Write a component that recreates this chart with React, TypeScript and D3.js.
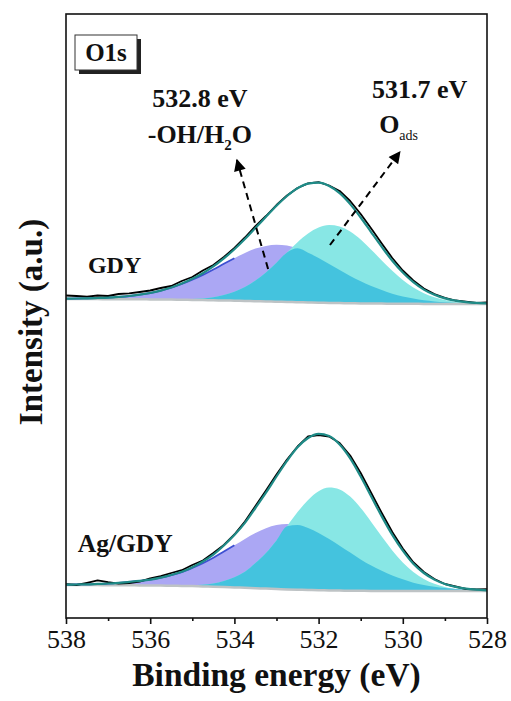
import React, { useRef, useEffect } from 'react';
import * as d3 from 'd3';

// binding energy grid (eV)
const energy = [
  538, 537.75, 537.5, 537.25, 537, 536.75, 536.5, 536.25, 536, 535.75, 535.5,
  535.25, 535, 534.75, 534.5, 534.25, 534, 533.75, 533.5, 533.25, 533,
  532.75, 532.5, 532.25, 532, 531.75, 531.5, 531.25, 531, 530.75, 530.5,
  530.25, 530, 529.75, 529.5, 529.25, 529, 528.75, 528.5, 528.25, 528
];

// GDY (upper spectrum)
const gdyRaw = [
  322.5, 322.0, 321.4, 322.5, 322.0, 324.0, 324.6, 326.0, 327.5, 330.0, 332.0,
  337.0, 341.0, 347.5, 353.0, 361.0, 370.0, 380.5, 391.8, 402.0, 413.0,
  422.5, 430.0, 434.6, 435.8, 432.5, 427.0, 417.0, 404.0, 389.5, 374.5,
  360.0, 347.5, 337.5, 329.5, 324.0, 320.2, 317.5, 316.3, 315.2, 315.6
];
const gdyBg = [
  319.0, 319.0, 318.9, 318.9, 318.8, 318.8, 318.7, 318.7, 318.6, 318.5, 318.4,
  318.3, 318.1, 317.9, 317.7, 317.5, 317.3, 317.0, 316.8, 316.5, 316.3,
  316.0, 315.8, 315.5, 315.3, 315.1, 314.9, 314.7, 314.6, 314.5, 314.4,
  314.3, 314.2, 314.2, 314.1, 314.1, 314.0, 314.0, 314.0, 314.0, 314.0
];
const gdyOH = [
  0.3, 0.5, 0.8, 1.1, 1.6, 2.3, 3.3, 4.6, 6.4, 8.8, 11.9,
  15.7, 20.2, 25.2, 30.8, 36.7, 42.5, 48.0, 52.6, 55.6, 57.0,
  56.4, 53.9, 49.8, 44.8, 39.0, 33.2, 27.4, 22.1, 17.4, 13.5,
  10.0, 7.3, 5.2, 3.6, 2.5, 1.7, 1.1, 0.7, 0.5, 0.3
];
const gdyOads = [
  0, 0, 0, 0, 0, 0, 0, 0, 0, 0.1, 0.2,
  0.4, 0.9, 1.7, 3.1, 5.4, 8.9, 13.9, 20.7, 29.1, 39.0,
  49.6, 60.0, 69.0, 75.2, 77.9, 76.7, 71.8, 63.8, 53.8, 43.2,
  32.9, 23.9, 16.4, 10.7, 6.6, 3.9, 2.2, 1.2, 0.6, 0.3
];

// Ag/GDY (lower spectrum)
const agRaw = [
  33.8, 33.0, 35.2, 37.6, 35.8, 34.4, 35.0, 36.3, 39.6, 41.8, 45.0,
  47.8, 53.0, 57.5, 65.0, 73.0, 83.5, 96.5, 112.0, 127.5, 143.5,
  158.5, 171.5, 181.5, 183.0, 181.5, 175.0, 162.5, 145.0, 125.0, 105.0,
  86.0, 69.5, 55.8, 46.0, 39.0, 34.0, 31.5, 29.0, 28.6, 28.9
];
const agBg = [
  33.0, 33.0, 32.9, 32.9, 32.8, 32.8, 32.7, 32.6, 32.5, 32.4, 32.3,
  32.1, 31.9, 31.6, 31.3, 31.0, 30.6, 30.2, 29.8, 29.4, 29.0,
  28.6, 28.3, 28.0, 27.8, 27.6, 27.4, 27.3, 27.2, 27.1, 27.1,
  27.0, 27.0, 27.0, 27.0, 27.0, 27.0, 27.0, 27.0, 27.0, 27.0
];
const agOH = [
  0.3, 0.5, 0.8, 1.2, 1.7, 2.4, 3.4, 4.5, 5.9, 7.9, 10.5,
  13.7, 18.1, 23.2, 28.9, 35.5, 42.1, 48.9, 55.1, 60.4, 63.9,
  65.4, 64.8, 62.0, 57.3, 51.5, 44.9, 38.2, 31.4, 25.4, 20.1,
  15.5, 11.8, 8.3, 6.0, 4.2, 2.9, 2.0, 1.2, 0.8, 0.5
];
const agOads = [
  0, 0, 0, 0, 0, 0, 0, 0, 0, 0.1, 0.2,
  0.4, 0.8, 1.7, 3.2, 6.0, 10.2, 16.0, 25.1, 35.5, 48.6,
  63.1, 77.6, 90.0, 99.0, 102.9, 101.2, 94.1, 82.9, 69.0, 54.4,
  40.6, 28.6, 19.0, 12.0, 7.2, 4.1, 2.1, 1.1, 0.5, 0.2
];

const xTicks = [538, 536, 534, 532, 530, 528];
const xMinorTicks = [537, 535, 533, 531, 529];

const spectra = [
  { name: 'GDY', raw: gdyRaw, bg: gdyBg, oh: gdyOH, oads: gdyOads, labelE: 537.48, labelY: 345, size: 24 },
  { name: 'Ag/GDY', raw: agRaw, bg: agBg, oh: agOH, oads: agOads, labelE: 537.72, labelY: 66, size: 25.5 }
];

// peak annotations: label position, arrow tail -> tip (data coords)
const annotations = [
  { e1: 534.82, e2: 534.82, y: 511, line1: '532.8 eV', line2: 'oh', from: [533.2, 349], to: [533.94, 458] },
  { e1: 529.6, e2: 530.1, y: 520, line1: '531.7 eV', line2: 'oads', from: [531.73, 373], to: [530.07, 466] }
];

const COLORS = {
  oh: '#aba7f4',
  oads: '#88e7e5',
  overlap: '#44c3de',
  env: '#1f8b87',
  bg: '#bec3c5',
  ohLine: '#3d50d2'
};

const FONT = '"Liberation Serif", "Times New Roman", serif';

const App = () => {
  const ref = useRef(null);

  useEffect(() => {
    const node = ref.current;
    if (!node) return;
    const svg = d3.select(node);
    svg.selectAll('*').remove();

    const width = 511;
    const height = 701;
    const margin = { top: 14, right: 24, bottom: 83, left: 66 };

    const x = d3.scaleLinear()
      .domain([538, 528])
      .range([margin.left, width - margin.right]);
    const y = d3.scaleLinear()
      .domain([0, 604])
      .range([height - margin.bottom, margin.top]);

    const defs = svg.append('defs');
    defs.append('marker')
      .attr('id', 'arrowhead')
      .attr('viewBox', '0 0 10 10')
      .attr('refX', 9)
      .attr('refY', 5)
      .attr('markerWidth', 7)
      .attr('markerHeight', 6)
      .attr('markerUnits', 'strokeWidth')
      .attr('orient', 'auto')
      .append('path')
      .attr('d', 'M0,0 L10,5 L0,10 Z')
      .attr('fill', '#000');

    defs.append('clipPath')
      .attr('id', 'plot-clip')
      .append('rect')
      .attr('x', margin.left)
      .attr('y', margin.top)
      .attr('width', width - margin.left - margin.right)
      .attr('height', height - margin.top - margin.bottom);

    const plot = svg.append('g').attr('clip-path', 'url(#plot-clip)');

    spectra.forEach(s => {
      const idx = d3.range(energy.length);
      const overlap = idx.map(i => Math.min(s.oh[i], s.oads[i]));

      const comp = (vals) => d3.area()
        .x(i => x(energy[i]))
        .y0(i => y(s.bg[i]))
        .y1(i => y(s.bg[i] + vals[i]))
        .curve(d3.curveMonotoneX)(idx);

      plot.append('path').attr('d', comp(s.oh)).attr('fill', COLORS.oh);
      plot.append('path').attr('d', comp(s.oads)).attr('fill', COLORS.oads);
      plot.append('path').attr('d', comp(overlap)).attr('fill', COLORS.overlap);

      // background
      plot.append('path')
        .attr('d', d3.line()
          .x(i => x(energy[i]))
          .y(i => y(s.bg[i]))
          .curve(d3.curveMonotoneX)(idx))
        .attr('fill', 'none')
        .attr('stroke', COLORS.bg)
        .attr('stroke-width', 2.5);

      // -OH component edge on the high-BE tail
      const tail = idx.filter(i => energy[i] >= 534);
      plot.append('path')
        .attr('d', d3.line()
          .x(i => x(energy[i]))
          .y(i => y(s.bg[i] + s.oh[i]))
          .curve(d3.curveMonotoneX)(tail))
        .attr('fill', 'none')
        .attr('stroke', COLORS.ohLine)
        .attr('stroke-width', 1.8);

      // raw data
      plot.append('path')
        .attr('d', d3.line()
          .x(i => x(energy[i]))
          .y(i => y(s.raw[i]))(idx))
        .attr('fill', 'none')
        .attr('stroke', '#000')
        .attr('stroke-width', 1.8)
        .attr('stroke-linejoin', 'round');

      // fitted envelope
      plot.append('path')
        .attr('d', d3.line()
          .x(i => x(energy[i]))
          .y(i => y(s.bg[i] + s.oh[i] + s.oads[i]))
          .curve(d3.curveMonotoneX)(idx))
        .attr('fill', 'none')
        .attr('stroke', COLORS.env)
        .attr('stroke-width', 2.2);

      svg.append('text')
        .attr('x', x(s.labelE))
        .attr('y', y(s.labelY))
        .attr('font-family', FONT)
        .attr('font-weight', 'bold')
        .attr('font-size', s.size)
        .attr('fill', '#111')
        .text(s.name);
    });

    // annotations
    annotations.forEach(a => {
      svg.append('line')
        .attr('x1', x(a.from[0]))
        .attr('y1', y(a.from[1]))
        .attr('x2', x(a.to[0]))
        .attr('y2', y(a.to[1]))
        .attr('stroke', '#000')
        .attr('stroke-width', 2)
        .attr('stroke-dasharray', '7,5')
        .attr('marker-end', 'url(#arrowhead)');

      svg.append('text')
        .attr('x', x(a.e1))
        .attr('y', y(a.y))
        .attr('text-anchor', 'middle')
        .attr('font-family', FONT)
        .attr('font-weight', 'bold')
        .attr('font-size', 26)
        .attr('fill', '#111')
        .text(a.line1);

      const t2 = svg.append('text')
        .attr('x', x(a.e2))
        .attr('y', y(a.y) + 36)
        .attr('text-anchor', 'middle')
        .attr('font-family', FONT)
        .attr('font-weight', 'bold')
        .attr('font-size', 26)
        .attr('fill', '#111');
      if (a.line2 === 'oh') {
        t2.append('tspan').text('-OH/H');
        t2.append('tspan').attr('font-size', 15).attr('dy', 7).text('2');
        t2.append('tspan').attr('dy', -7).text('O');
      } else {
        t2.attr('y', y(a.y) + 35);
        t2.append('tspan').text('O');
        t2.append('tspan').attr('font-size', 14).attr('font-weight', 'normal').attr('dy', 7).text('ads');
      }
    });

    // O1s box with shadow
    const boxX = 75, boxY = 35, boxW = 62, boxH = 35;
    svg.append('rect')
      .attr('x', boxX + 4).attr('y', boxY + 4)
      .attr('width', boxW).attr('height', boxH)
      .attr('fill', '#222');
    svg.append('rect')
      .attr('x', boxX).attr('y', boxY)
      .attr('width', boxW).attr('height', boxH)
      .attr('fill', '#fff')
      .attr('stroke', '#333')
      .attr('stroke-width', 1);
    svg.append('text')
      .attr('x', boxX + boxW / 2)
      .attr('y', boxY + 26)
      .attr('text-anchor', 'middle')
      .attr('font-family', FONT)
      .attr('font-weight', 'bold')
      .attr('font-size', 25)
      .attr('fill', '#111')
      .text('O1s');

    // frame
    svg.append('rect')
      .attr('x', margin.left)
      .attr('y', margin.top)
      .attr('width', width - margin.left - margin.right)
      .attr('height', height - margin.top - margin.bottom)
      .attr('fill', 'none')
      .attr('stroke', '#111')
      .attr('stroke-width', 1.6);

    // x axis
    const xAxis = d3.axisBottom(x)
      .tickValues(xTicks)
      .tickSize(6)
      .tickPadding(6)
      .tickFormat(d3.format('d'));
    const gx = svg.append('g')
      .attr('transform', `translate(0, ${height - margin.bottom})`)
      .call(xAxis);
    gx.select('.domain').remove();
    gx.selectAll('.tick line').attr('stroke', '#111').attr('stroke-width', 1.6);
    gx.selectAll('.tick text')
      .attr('font-family', FONT)
      .attr('font-size', 26)
      .attr('fill', '#111');

    const gxm = svg.append('g')
      .attr('transform', `translate(0, ${height - margin.bottom})`)
      .call(d3.axisBottom(x).tickValues(xMinorTicks).tickSize(3).tickFormat(() => ''));
    gxm.select('.domain').remove();
    gxm.selectAll('.tick line').attr('stroke', '#111').attr('stroke-width', 1.6);

    // axis titles
    svg.append('text')
      .attr('x', (margin.left + width - margin.right) / 2)
      .attr('y', 686)
      .attr('text-anchor', 'middle')
      .attr('font-family', FONT)
      .attr('font-weight', 'bold')
      .attr('font-size', 33.5)
      .attr('fill', '#111')
      .text('Binding energy (eV)');

    svg.append('text')
      .attr('transform', `translate(42, 322) rotate(-90)`)
      .attr('text-anchor', 'middle')
      .attr('font-family', FONT)
      .attr('font-weight', 'bold')
      .attr('font-size', 33)
      .attr('fill', '#111')
      .text('Intensity (a.u.)');
  }, []);

  return (
    <svg
      ref={ref}
      width={511}
      height={701}
      style={{ position: 'absolute', left: 0, top: 0, background: '#fff' }}
    />
  );
};

export default App;
